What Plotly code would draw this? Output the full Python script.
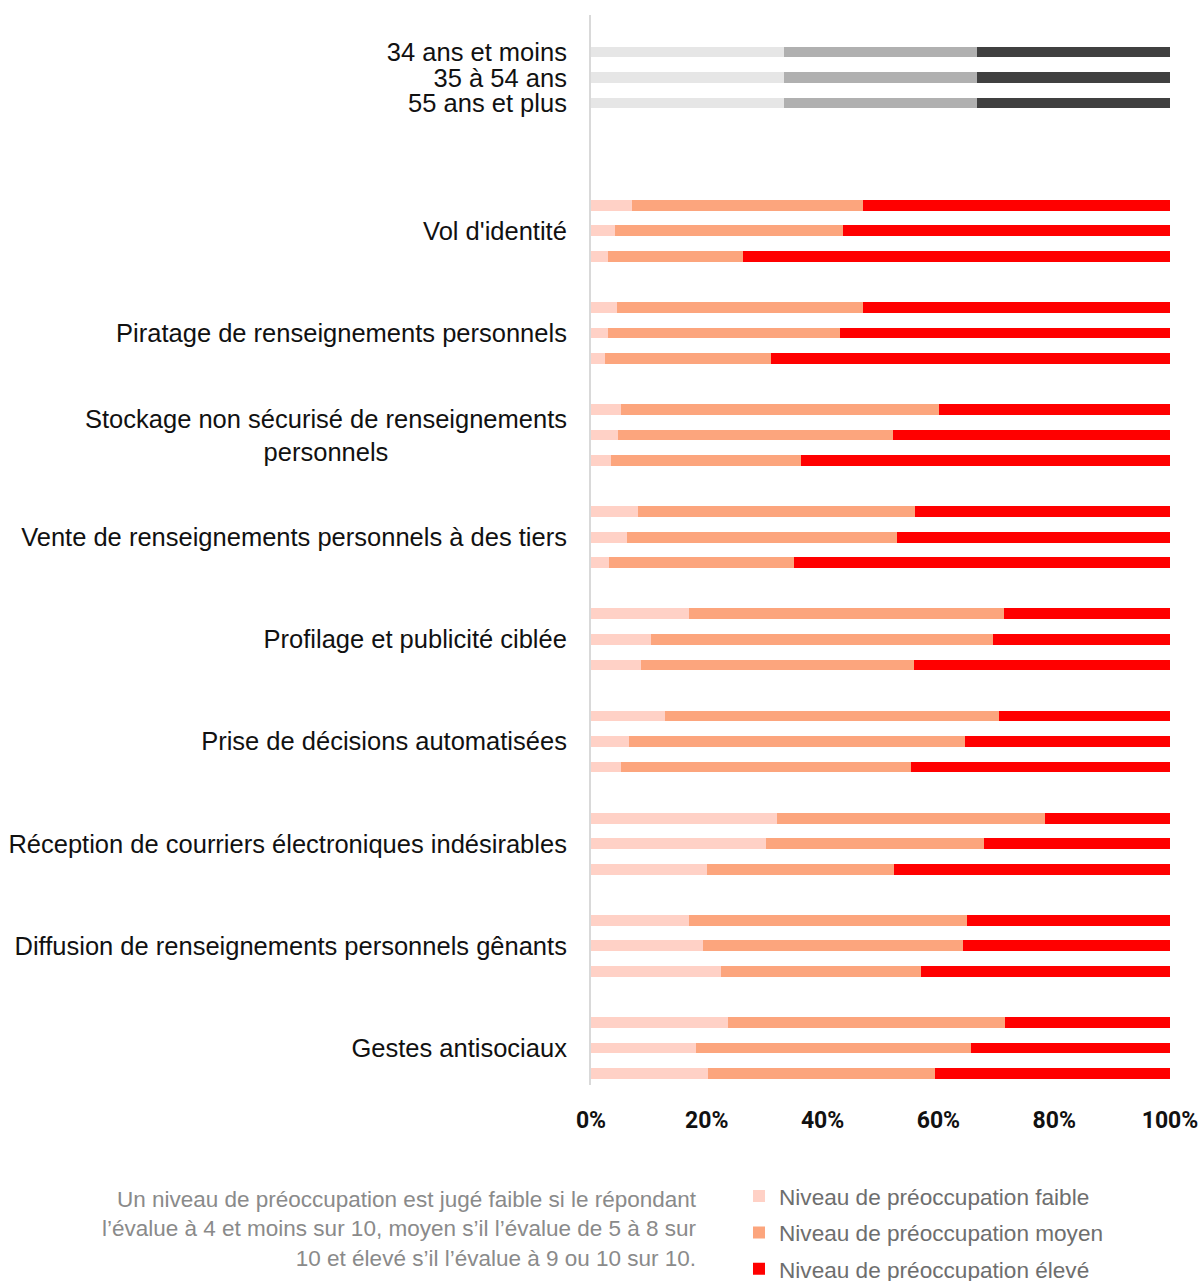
import plotly.graph_objects as go

categories = [
    "Vol d'identité",
    "Piratage de renseignements personnels",
    "Stockage non sécurisé de renseignements<br>personnels",
    "Vente de renseignements personnels à des tiers",
    "Profilage et publicité ciblée",
    "Prise de décisions automatisées",
    "Réception de courriers électroniques indésirables",
    "Diffusion de renseignements personnels gênants",
    "Gestes antisociaux",
]
age_groups = ["34 ans et moins", "35 à 54 ans", "55 ans et plus"]

# percentages per category, in age-group order (34-, 35-54, 55+)
faible = [
    [7.0, 4.1, 2.9],
    [4.5, 2.9, 2.5],
    [5.2, 4.7, 3.5],
    [8.1, 6.2, 3.1],
    [17.0, 10.4, 8.6],
    [12.8, 6.6, 5.2],
    [32.2, 30.2, 20.1],
    [17.0, 19.4, 22.4],
    [23.7, 18.2, 20.2],
]
moyen = [
    [39.9, 39.5, 23.3],
    [42.4, 40.1, 28.6],
    [54.9, 47.4, 32.8],
    [47.9, 46.7, 32.0],
    [54.3, 59.0, 47.1],
    [57.6, 58.0, 50.0],
    [46.2, 37.7, 32.2],
    [48.0, 44.9, 34.6],
    [47.8, 47.5, 39.2],
]
eleve = [
    [53.1, 56.4, 73.8],
    [53.1, 57.0, 68.9],
    [39.9, 47.9, 63.7],
    [44.0, 47.1, 64.9],
    [28.7, 30.6, 44.3],
    [29.6, 35.4, 44.8],
    [21.6, 32.1, 47.7],
    [35.0, 35.7, 43.0],
    [28.5, 34.3, 40.6],
]
age_split = [1 / 3, 1 / 3, 1 / 3]
x_ticks = [0, 0.2, 0.4, 0.6, 0.8, 1.0]
x_tick_labels = ["0%", "20%", "40%", "60%", "80%", "100%"]
note = ("Un niveau de préoccupation est jugé faible si le répondant<br>"
        "l’évalue à 4 et moins sur 10, moyen s’il l’évalue de 5 à 8 sur<br>"
        "10 et élevé s’il l’évalue à 9 ou 10 sur 10.")

# row positions: age legend rows 0..2, then each category group of 3 rows, step 4
age_rows = [0, 1, 2]
cat_rows = [[6 + 4 * i + j for j in range(3)] for i in range(len(categories))]

fig = go.Figure()
grey_cols = ["#E6E6E6", "#B0B0B0", "#404040"]
for k in range(3):
    fig.add_trace(go.Bar(
        y=age_rows, x=[age_split[k]] * 3, orientation="h",
        marker=dict(color=grey_cols[k], line=dict(width=0)),
        width=0.42, showlegend=False, hoverinfo="skip"))

series = [
    ("Niveau de préoccupation faible", faible, "#FFD1C6"),
    ("Niveau de préoccupation moyen", moyen, "#FCA57D"),
    ("Niveau de préoccupation élevé", eleve, "#FF0000"),
]
for gi, (name, vals, col) in enumerate(series):
    ys, xs = [], []
    for i in range(len(categories)):
        for j in range(3):
            ys.append(cat_rows[i][j])
            xs.append(vals[i][j] / 100.0)
    fig.add_trace(go.Bar(
        y=ys, x=xs, orientation="h", name=name,
        legendgroup=name,
        marker=dict(color=col, line=dict(width=0)),
        width=0.42))

tickvals = age_rows + [r[1] for r in cat_rows]
ticktext = age_groups + [c if "<br>" not in c else "" for c in categories]

LABEL_FONT = "Liberation Sans, Arial, sans-serif"
TICK_FONT = "Roboto, Liberation Sans, sans-serif"

fig.update_layout(
    barmode="stack",
    width=1201, height=1281,
    margin=dict(l=591, r=31, t=15, b=196, autoexpand=False),
    paper_bgcolor="white", plot_bgcolor="white",
    font=dict(family=LABEL_FONT, color="#000000"),
    bargap=0,
    legend=dict(
        xref="paper", yref="container",
        x=0.2556, y=0.0829, xanchor="left", yanchor="top",
        font=dict(family=LABEL_FONT, size=22.6, color="#6E6E6E"),
        tracegroupgap=4, itemwidth=30,
        bgcolor="rgba(0,0,0,0)",
    ),
    xaxis=dict(
        range=[0, 1], tickvals=x_ticks, ticktext=x_tick_labels,
        showgrid=False, zeroline=False, showline=False,
        ticks="outside", ticklen=14, tickcolor="rgba(0,0,0,0)",
        tickangle=0, automargin=False, ticklabeloverflow="allow",
        tickfont=dict(family=TICK_FONT, size=23, color="#111111", weight="bold"),
        fixedrange=True,
    ),
    yaxis=dict(
        range=[40.45, -1.45], tickvals=tickvals, ticktext=ticktext,
        showgrid=False, zeroline=False, automargin=False,
        showline=True, linecolor="#D9D9D9", linewidth=2,
        ticks="outside", ticklen=17, tickcolor="rgba(0,0,0,0)",
        tickfont=dict(family=LABEL_FONT, size=25.5, color="#111111"),
        fixedrange=True,
    ),
)

# the two-line category label is centred, as in the original
for i, c in enumerate(categories):
    if "<br>" in c:
        fig.add_annotation(
            xref="paper", yref="y", x=0, y=cat_rows[i][1], xanchor="right",
            xshift=-22, yanchor="middle", align="center", text=c, showarrow=False,
            font=dict(family=LABEL_FONT, size=25.5, color="#111111"))

fig.add_annotation(
    xref="paper", yref="paper", x=0.1865, y=-0.0932, xanchor="right", yanchor="top",
    align="right", text=note, showarrow=False,
    font=dict(family=LABEL_FONT, size=22.5, color="#8A8A8A"))

fig.write_html(
    "out.html",
    config={"displayModeBar": False},
    post_script="document.body.style.margin='0';document.body.style.overflow='hidden';",
)
